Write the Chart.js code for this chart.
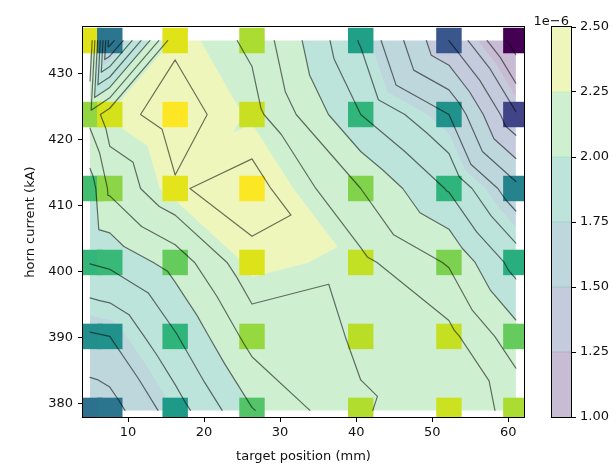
<!DOCTYPE html>
<html>
<head>
<meta charset="utf-8">
<script src="https://cdn.jsdelivr.net/npm/chart.js@4.4.1/dist/chart.umd.min.js"></script>
<style>
  html, body { margin: 0; padding: 0; background: #fff; }
  #wrap { position: relative; width: 616px; height: 466px; }
  #wrap canvas { position: absolute; left: 0; top: 0; }
</style>
</head>
<body>
<div id="wrap">
  <canvas id="main" width="616" height="466"></canvas>
  <canvas id="cbar" width="616" height="466"></canvas>
</div>
<script>
// Scan grid: target positions (mm) and horn currents (kA)
const targetPos = [5, 7.6, 16.2, 26.3, 40.6, 52.2, 61];
const hornCurrent = [379, 390.2, 401.4, 412.6, 423.8, 435];

// Measured value at each grid node (units of 1e-6), one row per horn current,
// ordered by target position
const flux379 = [1.53, 1.554, 1.752, 1.994, 2.193, 2.244, 2.18];
const flux390 = [1.687, 1.70, 1.89, 2.14, 2.21, 2.23, 2.04];
const flux401 = [1.904, 1.92, 2.04, 2.277, 2.225, 2.09, 1.86];
const flux413 = [1.95, 2.12, 2.29, 2.342, 2.10, 1.89, 1.63];
const flux424 = [2.134, 2.26, 2.345, 2.237, 1.90, 1.70, 1.31];
const flux435 = [2.28, 1.55, 2.284, 2.18, 1.79, 1.40, 1.05];
const fluxRows = [flux379, flux390, flux401, flux413, flux424, flux435];

// How each grid cell is split into two triangles:
// '/' joins lower-left and upper-right corners, '\\' joins upper-left and lower-right
const cellDiagonals = [
  ['/', '/', '/', '\\', '/', '\\'],
  ['/', '/', '/', '/', '\\', '/'],
  ['/', '/', '\\', '\\', '/', '/'],
  ['/', '/', '/', '\\', '/', '/'],
  ['/', '/', '\\', '/', '/', '/']
];

// Filled contour bands and line contour levels (units of 1e-6)
const fillLevels = [1.0, 1.25, 1.5, 1.75, 2.0, 2.25, 2.5];
const lineLevels = [1.1, 1.2, 1.3, 1.4, 1.5, 1.6, 1.7, 1.8, 1.9, 2.0, 2.1, 2.2, 2.3];

// Tick labels
const xTicks = [10, 20, 30, 40, 50, 60];
const yTicks = [380, 390, 400, 410, 420, 430];
const cbarTicks = [1.0, 1.25, 1.5, 1.75, 2.0, 2.25, 2.5];

// ---- viridis colour map ----
const VIRIDIS = ['#440154','#471365','#482475','#463480','#414487','#3b528b','#355f8d',
  '#2f6c8e','#2a788e','#25848e','#21918c','#1e9c89','#22a884','#2fb47c','#44bf70',
  '#5ec962','#7ad151','#9bd93c','#bddf26','#dfe318','#fde725'];
const VIR_RGB = VIRIDIS.map(h => [1, 3, 5].map(i => parseInt(h.substr(i, 2), 16)));
function viridis(t, alpha) {
  t = Math.min(1, Math.max(0, t));
  const f = t * (VIR_RGB.length - 1);
  const i = Math.min(VIR_RGB.length - 2, Math.floor(f));
  const u = f - i;
  const c = VIR_RGB[i].map((v, k) => Math.round(v + u * (VIR_RGB[i + 1][k] - v)));
  return alpha === undefined ? `rgb(${c[0]},${c[1]},${c[2]})` : `rgba(${c[0]},${c[1]},${c[2]},${alpha})`;
}

const FILL_ALPHA = 0.3;
const levelMin = fillLevels[0], levelMax = fillLevels[fillLevels.length - 1];
function bandColor(i) {
  const mid = (fillLevels[i] + fillLevels[i + 1]) / 2;
  return viridis((mid - levelMin) / (levelMax - levelMin), FILL_ALPHA);
}

// ---- grid nodes and triangles ----
function node(r, c) { return { x: targetPos[c], y: hornCurrent[r], z: fluxRows[r][c] }; }
const triangles = [];
for (let r = 0; r < hornCurrent.length - 1; r++) {
  for (let c = 0; c < targetPos.length - 1; c++) {
    const bl = node(r, c), br = node(r, c + 1), tl = node(r + 1, c), tr = node(r + 1, c + 1);
    if (cellDiagonals[r][c] === '/') {
      triangles.push([bl, br, tr], [bl, tr, tl]);
    } else {
      triangles.push([bl, br, tl], [br, tr, tl]);
    }
  }
}

// keep the part of a polygon whose value lies above (or below) a level
function clipPoly(poly, level, keepAbove) {
  const out = [];
  for (let i = 0; i < poly.length; i++) {
    const a = poly[i], b = poly[(i + 1) % poly.length];
    const ina = keepAbove ? a.z >= level : a.z <= level;
    const inb = keepAbove ? b.z >= level : b.z <= level;
    if (ina) out.push(a);
    if (ina !== inb) {
      const t = (level - a.z) / (b.z - a.z);
      out.push({ x: a.x + t * (b.x - a.x), y: a.y + t * (b.y - a.y), z: level });
    }
  }
  return out;
}

function segmentsAt(level) {
  const segs = [];
  for (const tri of triangles) {
    const pts = [];
    for (let k = 0; k < 3; k++) {
      const a = tri[k], b = tri[(k + 1) % 3];
      if ((a.z >= level) !== (b.z >= level)) {
        const t = (level - a.z) / (b.z - a.z);
        pts.push({ x: a.x + t * (b.x - a.x), y: a.y + t * (b.y - a.y) });
      }
    }
    if (pts.length === 2) segs.push(pts);
  }
  return segs;
}

const contourPlugin = {
  id: 'contour',
  beforeDatasetsDraw(chart) {
    const { ctx, chartArea: ca, scales: { x, y } } = chart;
    ctx.save();
    ctx.beginPath();
    ctx.rect(ca.left, ca.top, ca.right - ca.left, ca.bottom - ca.top);
    ctx.clip();
    for (let i = 0; i < fillLevels.length - 1; i++) {
      ctx.beginPath();
      for (const tri of triangles) {
        const poly = clipPoly(clipPoly(tri, fillLevels[i], true), fillLevels[i + 1], false);
        if (poly.length < 3) continue;
        poly.forEach((p, k) => {
          const px = x.getPixelForValue(p.x), py = y.getPixelForValue(p.y);
          if (k === 0) ctx.moveTo(px, py); else ctx.lineTo(px, py);
        });
        ctx.closePath();
      }
      ctx.fillStyle = bandColor(i);
      ctx.fill();
    }
    ctx.restore();
  },
  afterDatasetsDraw(chart) {
    const { ctx, chartArea: ca, scales: { x, y } } = chart;
    ctx.save();
    ctx.beginPath();
    ctx.rect(ca.left, ca.top, ca.right - ca.left, ca.bottom - ca.top);
    ctx.clip();
    ctx.beginPath();
    for (const level of lineLevels) {
      for (const [a, b] of segmentsAt(level)) {
        ctx.moveTo(x.getPixelForValue(a.x), y.getPixelForValue(a.y));
        ctx.lineTo(x.getPixelForValue(b.x), y.getPixelForValue(b.y));
      }
    }
    ctx.strokeStyle = 'rgba(0,0,0,0.55)';
    ctx.lineWidth = 1.2;
    ctx.lineCap = 'round';
    ctx.lineJoin = 'round';
    ctx.stroke();
    ctx.restore();
  },
  afterDraw(chart) {
    const { ctx, chartArea: ca } = chart;
    ctx.save();
    ctx.strokeStyle = '#000';
    ctx.lineWidth = 1;
    ctx.strokeRect(Math.round(ca.left) - 0.5, Math.round(ca.top) - 0.5,
      Math.round(ca.right - ca.left) + 1, Math.round(ca.bottom - ca.top) + 1);
    ctx.restore();
  }
};

// ---- scatter squares coloured by value ----
const allValues = fluxRows.flat();
const vMin = Math.min(...allValues), vMax = Math.max(...allValues);
const points = [], pointColors = [];
hornCurrent.forEach((h, r) => {
  targetPos.forEach((t, c) => {
    const v = fluxRows[r][c];
    points.push({ x: t, y: h });
    pointColors.push(viridis((v - vMin) / (vMax - vMin)));
  });
});

Chart.defaults.font.family = '"DejaVu Sans", sans-serif';
Chart.defaults.font.size = 13;
Chart.defaults.color = '#111';

const tickGrid = { drawOnChartArea: false, drawTicks: true, tickLength: 5, color: '#000', lineWidth: 1 };

new Chart(document.getElementById('main'), {
  type: 'scatter',
  data: {
    datasets: [{
      data: points,
      pointStyle: 'rect',
      pointRadius: 18,
      pointHoverRadius: 18,
      pointBorderWidth: 0,
      backgroundColor: pointColors,
      borderColor: pointColors,
      clip: 0
    }]
  },
  options: {
    responsive: false,
    animation: false,
    events: [],
    layout: { padding: { top: 27, right: 92, left: 0, bottom: 0 } },
    plugins: { legend: { display: false }, tooltip: { enabled: false } },
    scales: {
      x: {
        type: 'linear', min: 4.08, max: 62.07,
        afterBuildTicks: s => { s.ticks = xTicks.map(v => ({ value: v })); },
        afterFit: s => { s.height = 49; },
        grid: tickGrid,
        border: { display: false },
        ticks: { padding: 3, color: '#111' },
        title: { display: true, text: 'target position (mm)', color: '#111', padding: { top: 0, bottom: 2 } }
      },
      y: {
        type: 'linear', min: 378, max: 437.05,
        afterBuildTicks: s => { s.ticks = yTicks.map(v => ({ value: v })); },
        afterFit: s => { s.width = 83; },
        grid: tickGrid,
        border: { display: false },
        ticks: { padding: 5, color: '#111' },
        title: { display: true, text: 'horn current (kA)', color: '#111', padding: { top: 23, bottom: 0 } }
      }
    }
  },
  plugins: [contourPlugin]
});

// ---- colour bar ----
const cbarFrame = {
  id: 'cbarFrame',
  afterDraw(chart) {
    const { ctx, chartArea: ca } = chart;
    ctx.save();
    ctx.strokeStyle = '#000';
    ctx.lineWidth = 1;
    ctx.strokeRect(Math.round(ca.left) - 0.5, Math.round(ca.top) - 0.5,
      Math.round(ca.right - ca.left) + 1, Math.round(ca.bottom - ca.top) + 1);
    ctx.fillStyle = '#111';
    ctx.font = '13px "DejaVu Sans", sans-serif';
    ctx.textAlign = 'right';
    ctx.textBaseline = 'alphabetic';
    ctx.fillText('1e\u22126', ca.right - 2, ca.top - 2);
    ctx.restore();
  }
};

new Chart(document.getElementById('cbar'), {
  type: 'bar',
  data: {
    labels: [''],
    datasets: fillLevels.slice(0, -1).map((lo, i) => ({
      data: [[lo, fillLevels[i + 1]]],
      backgroundColor: bandColor(i),
      borderWidth: 0,
      barPercentage: 1,
      categoryPercentage: 1,
      grouped: false
    }))
  },
  options: {
    responsive: false,
    animation: false,
    events: [],
    layout: { padding: { left: 552, top: 27, bottom: 49, right: 0 } },
    plugins: { legend: { display: false }, tooltip: { enabled: false } },
    scales: {
      x: { display: false },
      y: {
        position: 'right', min: 1.0, max: 2.5,
        afterBuildTicks: s => { s.ticks = cbarTicks.map(v => ({ value: v })); },
        afterFit: s => { s.width = 45; },
        grid: tickGrid,
        border: { display: false },
        ticks: { padding: 4, color: '#111', callback: v => Number(v).toFixed(2) }
      }
    }
  },
  plugins: [cbarFrame]
});
</script>
</body>
</html>
